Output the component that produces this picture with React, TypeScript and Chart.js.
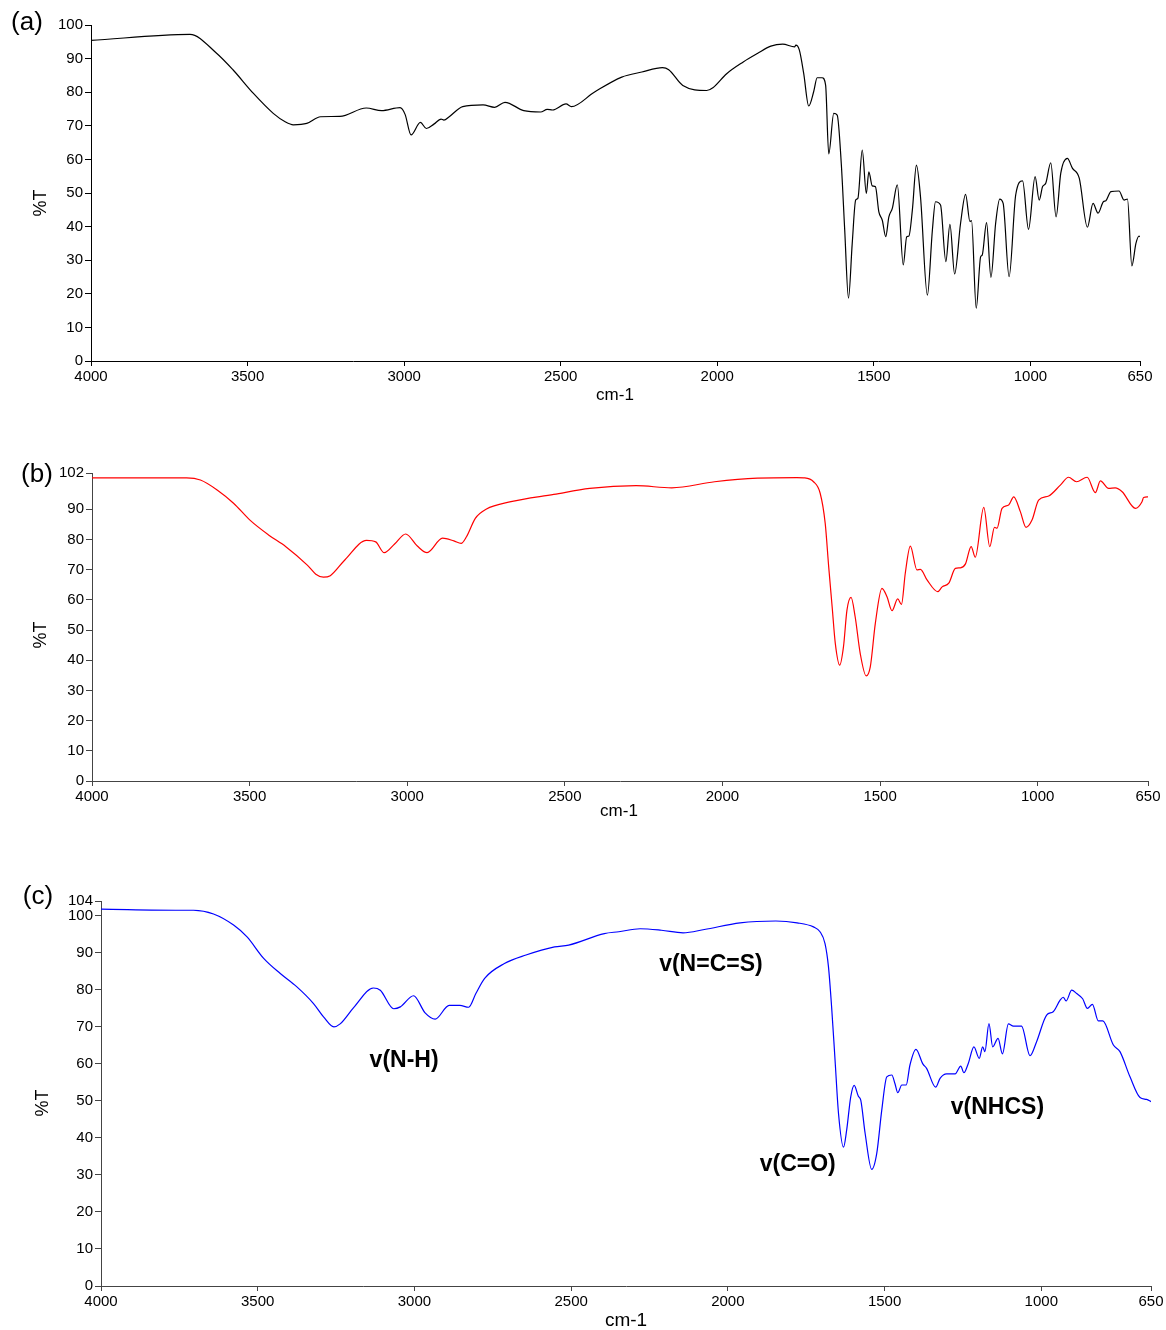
import React, { useEffect, useRef } from 'react';
import { Chart, registerables } from 'chart.js';

Chart.register(...registerables);

const FONT = "'Liberation Sans', Arial, sans-serif";
const TICK_FONT = "'Liberation Sans Narrow', 'Liberation Sans', Arial, sans-serif";

const xTicks = [4000, 3500, 3000, 2500, 2000, 1500, 1000, 650];
const aYTicks = [0, 10, 20, 30, 40, 50, 60, 70, 80, 90, 100];
const bYTicks = [0, 10, 20, 30, 40, 50, 60, 70, 80, 90, 102];
const cYTicks = [0, 10, 20, 30, 40, 50, 60, 70, 80, 90, 100, 104];

const aWave = [4000, 3684, 3599, 3546, 3482, 3418, 3380, 3354, 3311, 3267, 3205, 3121, 3072, 3013, 2997, 2978, 2948, 2929, 2905, 2882, 2873, 2856, 2813, 2748, 2711, 2678, 2618, 2564, 2543, 2526, 2483, 2466, 2393, 2305, 2241, 2175, 2155, 2110, 2034, 2014, 1970, 1917, 1872, 1829, 1791, 1753, 1749, 1738, 1724, 1708, 1692, 1681, 1665, 1654, 1644, 1628, 1617, 1604, 1593, 1581, 1569, 1558, 1551, 1537, 1524, 1516, 1505, 1495, 1484, 1473, 1462, 1452, 1441, 1425, 1406, 1395, 1388, 1377, 1364, 1351, 1329, 1313, 1303, 1287, 1270, 1257, 1242, 1223, 1207, 1193, 1188, 1173, 1159, 1154, 1140, 1126, 1111, 1098, 1087, 1068, 1047, 1025, 1006, 985, 972, 961, 951, 935, 918, 903, 882, 866, 844, 818, 800, 784, 767, 759, 743, 717, 701, 690, 676, 663, 653, 650];
const aT = [95.4, 97.2, 91.6, 86.6, 79.7, 73.7, 71.2, 70.3, 70.7, 72.7, 72.8, 75.3, 74.5, 75.4, 73.4, 67.3, 71.0, 69.2, 70.5, 72.0, 71.7, 72.7, 75.7, 76.2, 75.5, 77.0, 74.5, 74.1, 74.9, 74.7, 76.5, 75.7, 80.0, 84.5, 86.0, 87.3, 86.7, 82.0, 80.5, 81.3, 85.5, 89.0, 91.5, 93.7, 94.3, 93.5, 94.0, 92.6, 85.6, 75.9, 80.2, 84.3, 84.3, 82.1, 61.6, 73.7, 73.2, 58.8, 39, 18.7, 35, 47.9, 48.4, 62.8, 49.9, 56.3, 52.1, 51.9, 44.4, 41.9, 37, 42.9, 45.4, 52.4, 28.6, 37, 37.2, 44.9, 58.3, 48.9, 19.6, 39, 47.4, 46.4, 29.6, 40.7, 25.9, 41, 49.6, 41.5, 41.8, 15.7, 31, 31.5, 41.2, 24.9, 41, 48.2, 46.9, 25.1, 49.4, 53.6, 39.2, 54.9, 47.9, 51.9, 52.9, 59, 42.9, 55.9, 60.3, 57.4, 54.4, 39.8, 46.9, 44, 47.4, 47.7, 50.4, 50.6, 47.9, 48.2, 28.3, 35, 37.2, 37];

const bWave = [4000, 3700, 3656, 3603, 3551, 3498, 3440, 3385, 3317, 3290, 3266, 3244, 3198, 3129, 3100, 3073, 3040, 3005, 2968, 2937, 2888, 2852, 2829, 2812, 2784, 2750, 2671, 2535, 2421, 2274, 2161, 2025, 1889, 1764, 1742, 1711, 1690, 1674, 1663, 1652, 1642, 1628, 1616, 1605, 1592, 1579, 1563, 1544, 1531, 1515, 1494, 1478, 1462, 1444, 1432, 1420, 1404, 1383, 1372, 1351, 1317, 1303, 1282, 1261, 1245, 1229, 1211, 1198, 1171, 1152, 1137, 1129, 1113, 1092, 1076, 1055, 1037, 1018, 997, 965, 928, 902, 877, 843, 817, 801, 775, 754, 732, 690, 669, 664, 650];
const bT = [100.4, 100.4, 99.7, 96.4, 92, 86.3, 81.5, 77.6, 71.5, 68.5, 67.5, 68.0, 73.2, 79.7, 79.2, 75.6, 78.5, 81.8, 77.8, 75.6, 80.4, 79.5, 78.7, 80.9, 87, 90, 92.5, 94.9, 96.9, 97.8, 97.1, 99.1, 100.3, 100.5, 100.4, 99.1, 95.3, 85.3, 71, 57.7, 45.6, 38.4, 44.5, 56.6, 60.8, 54.4, 42.3, 34.8, 37.8, 52.2, 63.8, 61, 56.4, 60.3, 58.5, 68.8, 77.8, 69.9, 70.1, 66.6, 62.7, 64.3, 65.5, 70.4, 70.6, 71.9, 77.6, 74.1, 90.6, 77.6, 84, 83.7, 90.3, 91.4, 94.1, 89.2, 84, 86.4, 93, 94.4, 98, 100.6, 99.1, 100.6, 95.5, 99.4, 96.9, 97.1, 95.8, 90.3, 92.5, 93.9, 94.1];

const cWave = [4000, 3747, 3705, 3641, 3577, 3534, 3481, 3428, 3375, 3322, 3290, 3257, 3237, 3194, 3131, 3109, 3066, 3045, 3003, 2966, 2934, 2889, 2855, 2827, 2804, 2776, 2713, 2644, 2553, 2508, 2394, 2348, 2280, 2212, 2143, 2075, 1961, 1847, 1779, 1727, 1706, 1690, 1679, 1669, 1658, 1647, 1631, 1621, 1608, 1597, 1584, 1576, 1562, 1541, 1525, 1509, 1493, 1477, 1467, 1458, 1445, 1431, 1419, 1400, 1378, 1366, 1337, 1323, 1302, 1275, 1257, 1247, 1233, 1215, 1198, 1187, 1180, 1167, 1155, 1138, 1124, 1105, 1089, 1063, 1036, 1015, 983, 962, 940, 930, 921, 903, 887, 868, 853, 837, 818, 804, 770, 749, 717, 685, 664, 650];
const cT = [101.8, 101.5, 101.5, 100.5, 97.5, 94.3, 88.5, 84.4, 80.8, 76.3, 72.7, 70.0, 70.8, 75.2, 80.5, 79.9, 74.9, 75.4, 78.4, 73.8, 72.1, 75.8, 75.8, 75.3, 79, 83.1, 87.1, 89.4, 91.6, 92.1, 95.2, 95.7, 96.5, 96.1, 95.4, 96.3, 98.1, 98.6, 98.1, 97, 95.7, 92.5, 86.2, 75.4, 61, 46.6, 37.5, 42.1, 51.1, 54.2, 51.3, 50.2, 41.2, 31.5, 35.8, 47.5, 56.5, 57, 54.7, 52.2, 54.3, 54.3, 59.7, 63.9, 60, 58.8, 53.7, 56.1, 57.3, 57.3, 59.4, 57.6, 60.1, 64.6, 61.5, 64.6, 63.3, 70.9, 64.6, 66.9, 62.7, 70.8, 70.2, 70.2, 62.2, 66, 73.2, 74.1, 77.2, 78, 77, 79.9, 79, 77.6, 75, 76.1, 71.6, 71.6, 65.1, 63.3, 56.5, 50.9, 50.4, 49.8];

const cNotes = ['v(N-H)', 'v(N=C=S)', 'v(C=O)', 'v(NHCS)'];
const cNoteWave = [3033, 2054, 1777, 1140];
const cNoteT = [61, 86.7, 32.7, 48.3];

type PanelCfg = {
  top: number; height: number; left: number; right: number; areaTop: number; areaBottom: number;
  yMax: number; yTicks: number[]; wave: number[]; t: number[]; color: string; axisColor: string;
  label: string; labelX: number; labelY: number; yTitleX: number; yTitleY: number;
  xTitleX: number; xTitleY: number; xTitleSize: number; notes?: boolean;
};

const panels: PanelCfg[] = [
  { top: 0, height: 410, left: 91, right: 1140, areaTop: 25, areaBottom: 361, yMax: 100, yTicks: aYTicks, wave: aWave, t: aT, color: '#000000', axisColor: '#000000', label: '(a)', labelX: 27, labelY: 23, yTitleX: 41, yTitleY: 203, xTitleX: 615, xTitleY: 395, xTitleSize: 17 },
  { top: 420, height: 410, left: 92, right: 1148, areaTop: 53, areaBottom: 361, yMax: 102, yTicks: bYTicks, wave: bWave, t: bT, color: '#ff0000', axisColor: '#444444', label: '(b)', labelX: 37, labelY: 55, yTitleX: 41, yTitleY: 215, xTitleX: 619, xTitleY: 391, xTitleSize: 17 },
  { top: 840, height: 490, left: 101, right: 1151, areaTop: 61, areaBottom: 446, yMax: 104, yTicks: cYTicks, wave: cWave, t: cT, color: '#0000ff', axisColor: '#444444', label: '(c)', labelX: 38, labelY: 57, yTitleX: 43, yTitleY: 263, xTitleX: 626, xTitleY: 481, xTitleSize: 19, notes: true },
];

function Panel({ cfg }: { cfg: PanelCfg }) {
  const ref = useRef<HTMLCanvasElement>(null);
  useEffect(() => {
    const canvas = ref.current;
    if (!canvas) return;
    const textPlugin = {
      id: 'texts',
      afterDraw(chart: any) {
        const ctx = chart.ctx;
        ctx.save();
        ctx.fillStyle = '#000';
        ctx.textAlign = 'center';
        ctx.textBaseline = 'middle';
        ctx.font = `26px ${FONT}`;
        ctx.fillText(cfg.label, cfg.labelX, cfg.labelY);
        ctx.font = `${cfg.xTitleSize}px ${FONT}`;
        ctx.fillText('cm-1', cfg.xTitleX, cfg.xTitleY);
        ctx.save();
        ctx.translate(cfg.yTitleX, cfg.yTitleY);
        ctx.rotate(-Math.PI / 2);
        ctx.font = `18px ${FONT}`;
        ctx.fillText('%T', 0, 0);
        ctx.restore();
        if (cfg.notes) {
          ctx.font = `bold 23px ${FONT}`;
          const xs = chart.scales.x;
          const ys = chart.scales.y;
          cNotes.forEach((n, i) => {
            ctx.fillText(n, xs.getPixelForValue(cNoteWave[i]), ys.getPixelForValue(cNoteT[i]));
          });
        }
        ctx.restore();
      },
    };
    const chart = new Chart(canvas, {
      type: 'line',
      data: {
        datasets: [
          {
            data: cfg.wave.map((w, i) => ({ x: w, y: cfg.t[i] })),
            borderColor: cfg.color,
            borderWidth: 1.2,
            pointRadius: 0,
            fill: false,
            cubicInterpolationMode: 'monotone',
          },
        ],
      },
      options: {
        responsive: false,
        animation: false,
        events: [],
        layout: { padding: { top: cfg.areaTop, right: 1166 - cfg.right, left: 0, bottom: 0 } },
        plugins: { legend: { display: false }, tooltip: { enabled: false }, title: { display: false } },
        scales: {
          x: {
            type: 'linear',
            reverse: true,
            min: 650,
            max: 4000,
            afterBuildTicks: (scale: any) => {
              scale.ticks = xTicks.map((v) => ({ value: v }));
            },
            afterFit: (scale: any) => {
              scale.height = cfg.height - cfg.areaBottom;
            },
            border: { display: true, color: cfg.axisColor, width: 1 },
            grid: { display: true, drawOnChartArea: false, drawTicks: true, tickLength: 5, color: cfg.axisColor },
            ticks: {
              autoSkip: false,
              maxRotation: 0,
              padding: 2,
              color: '#000',
              font: { family: TICK_FONT, size: 15 },
              callback: (v: any) => String(v),
            },
          },
          y: {
            type: 'linear',
            min: 0,
            max: cfg.yMax,
            afterBuildTicks: (scale: any) => {
              scale.ticks = cfg.yTicks.map((v) => ({ value: v }));
            },
            afterFit: (scale: any) => {
              scale.width = cfg.left;
            },
            border: { display: true, color: cfg.axisColor, width: 1 },
            grid: { display: true, drawOnChartArea: false, drawTicks: true, tickLength: 6, color: cfg.axisColor },
            ticks: {
              autoSkip: false,
              padding: 2,
              color: '#000',
              font: { family: TICK_FONT, size: 15 },
              callback: (v: any) => String(v),
            },
          },
        },
      },
      plugins: [textPlugin],
    } as any);
    return () => chart.destroy();
  }, [cfg]);
  return (
    <canvas
      ref={ref}
      width={1166}
      height={cfg.height}
      style={{ position: 'absolute', left: 0, top: cfg.top, width: 1166, height: cfg.height, display: 'block' }}
    />
  );
}

export default function App() {
  return (
    <div style={{ position: 'absolute', left: 0, top: 0, width: 1166, height: 1330, background: '#ffffff', overflow: 'hidden' }}>
      {panels.map((p, i) => (
        <Panel key={i} cfg={p} />
      ))}
    </div>
  );
}
